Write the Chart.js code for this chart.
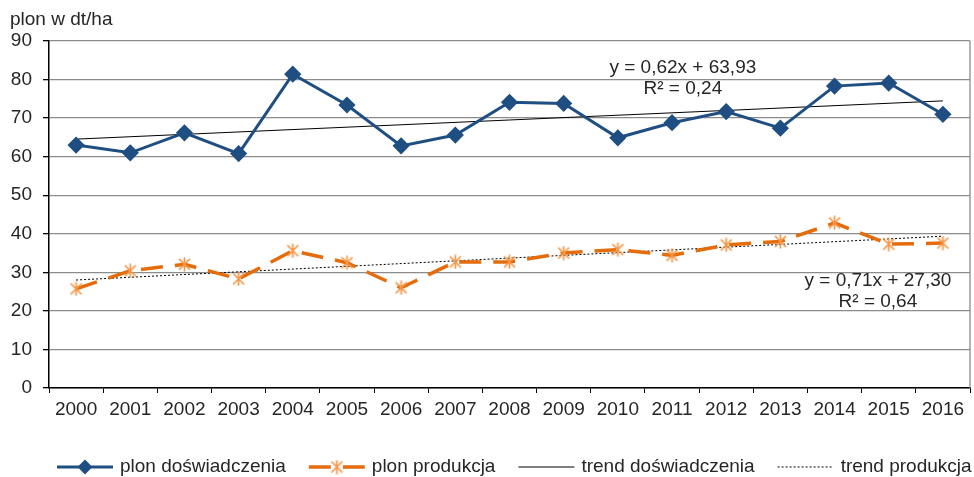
<!DOCTYPE html>
<html>
<head>
<meta charset="utf-8">
<script src="https://cdn.jsdelivr.net/npm/chart.js@4"></script>
<style>
  body { margin: 0; background: #fff; }
  #wrap { width: 974px; height: 477px; }
</style>
</head>
<body>
<div id="wrap"><canvas id="yieldChart" width="974" height="477"></canvas></div>
<script>
const years = ['2000', '2001', '2002', '2003', '2004', '2005', '2006', '2007', '2008',
    '2009', '2010', '2011', '2012', '2013', '2014', '2015', '2016'];
const plonDoswiadczenia = [63.0, 61.0, 66.2, 60.8, 81.4, 73.4, 62.8, 65.6, 74.1,
    73.8, 64.9, 68.8, 71.7, 67.4, 78.3, 79.1, 71.0];
const plonProdukcja = [25.7, 30.4, 32.1, 28.3, 35.6, 32.5, 26.0, 32.7, 32.7,
    35.0, 35.9, 34.4, 37.1, 38.0, 42.8, 37.3, 37.6];
// trend lines: value at first and last year
const trendDoswiadczenia = [64.55, 74.47];
const trendProdukcja = [28.01, 39.37];
const trendText = [
    ['y = 0,62x + 63,93', 'R² = 0,24'],
    ['y = 0,71x + 27,30', 'R² = 0,64']
];
const legendNames = ['plon doświadczenia', 'plon produkcja', 'trend doświadczenia', 'trend produkcja'];

const FONT = '19px "Liberation Sans", Arial, sans-serif';
const TEXT = '#262626';
const BLUE = '#1F4E82';
const ORANGE = '#E46C0A';

function starMarker(color) {
    const c = document.createElement('canvas');
    c.width = c.height = 15;
    const g = c.getContext('2d');
    g.strokeStyle = color;
    g.lineWidth = 1.7;
    g.beginPath();
    g.moveTo(2, 2); g.lineTo(13, 13);
    g.moveTo(13, 2); g.lineTo(2, 13);
    g.moveTo(7.5, 0.5); g.lineTo(7.5, 14.5);
    g.stroke();
    return c;
}
const star = starMarker('#F79646');

function ends(vals) {
    return [{ x: years[0], y: vals[0] }, { x: years[years.length - 1], y: vals[1] }];
}

const extras = {
    id: 'extras',
    afterDraw(chart) {
        const ctx = chart.ctx;
        const area = chart.chartArea;
        const xs = chart.scales.x, ys = chart.scales.y;
        ctx.save();

        // right border of plot
        ctx.strokeStyle = '#8c8c8c';
        ctx.lineWidth = 1.3;
        ctx.beginPath();
        ctx.moveTo(area.right, area.top);
        ctx.lineTo(area.right, area.bottom);
        ctx.stroke();

        ctx.font = FONT;
        ctx.fillStyle = TEXT;
        ctx.textBaseline = 'middle';

        // axis unit
        ctx.textAlign = 'left';
        ctx.fillText('plon w dt/ha', 10, 20);

        // trend equations
        ctx.textAlign = 'center';
        const eqPos = [[11.2, 83.1], [14.8, 27.8]];
        trendText.forEach((lines, i) => {
            const px = xs.getPixelForValue(eqPos[i][0]);
            const py = ys.getPixelForValue(eqPos[i][1]);
            ctx.fillText(lines[0], px, py);
            ctx.fillText(lines[1], px, py + 21);
        });

        // legend
        const ly = 467;
        let lx = 57;
        ctx.textAlign = 'left';
        chart.data.datasets.forEach((ds, i) => {
            ctx.save();
            ctx.strokeStyle = ds.borderColor;
            ctx.lineWidth = ds.borderWidth;
            ctx.setLineDash(ds.borderDash || []);
            ctx.beginPath();
            ctx.moveTo(lx, ly);
            ctx.lineTo(lx + 56, ly);
            ctx.stroke();
            ctx.restore();
            if (ds.pointRadius > 0) {
                ctx.fillStyle = ds.pointBackgroundColor;
                ctx.strokeStyle = ds.pointBorderColor;
                Chart.helpers.drawPoint(ctx, {
                    pointStyle: ds.pointStyle, radius: ds.pointRadius, borderWidth: 1, rotation: 0
                }, lx + 28, ly);
            }
            ctx.fillStyle = TEXT;
            ctx.fillText(legendNames[i], lx + 63, ly);
            lx += 63 + ctx.measureText(legendNames[i]).width + 23;
        });
        ctx.restore();
    }
};

new Chart(document.getElementById('yieldChart'), {
    type: 'line',
    data: {
        labels: years,
        datasets: [
            {
                label: legendNames[0],
                data: plonDoswiadczenia,
                borderColor: BLUE,
                borderWidth: 3,
                pointStyle: 'rectRot',
                pointRadius: 6.5,
                pointBackgroundColor: BLUE,
                pointBorderColor: BLUE,
                tension: 0
            },
            {
                label: legendNames[1],
                data: plonProdukcja,
                borderColor: ORANGE,
                borderWidth: 3.5,
                borderDash: [22, 12],
                pointStyle: star,
                pointRadius: 7,
                pointBackgroundColor: '#F79646',
                pointBorderColor: '#F79646',
                tension: 0
            },
            {
                label: legendNames[2],
                data: ends(trendDoswiadczenia),
                borderColor: '#000',
                borderWidth: 1,
                pointRadius: 0
            },
            {
                label: legendNames[3],
                data: ends(trendProdukcja),
                borderColor: '#000',
                borderWidth: 1,
                borderDash: [2, 2],
                pointRadius: 0
            }
        ]
    },
    options: {
        responsive: false,
        animation: false,
        layout: { autoPadding: false, padding: { top: 41, right: 4, left: 0, bottom: 0 } },
        plugins: { legend: { display: false }, tooltip: { enabled: false } },
        scales: {
            x: {
                offset: true,
                grid: { offset: true, drawOnChartArea: false, tickLength: 5, tickColor: '#000' },
                border: { color: '#000', width: 1.5 },
                ticks: { font: { size: 19, family: '"Liberation Sans", Arial' }, color: TEXT, padding: 5, maxRotation: 0 },
                afterFit(scale) {
                    scale.height = 89;
                    scale.paddingLeft = 0;
                    scale.paddingRight = 0;
                }
            },
            y: {
                min: 0,
                max: 90,
                ticks: { stepSize: 10, font: { size: 19, family: '"Liberation Sans", Arial' }, color: TEXT, padding: 11 },
                grid: { color: '#8c8c8c', lineWidth: 1.3, tickLength: 6, tickColor: '#000' },
                border: { color: '#000', width: 1.5 },
                afterFit(scale) { scale.width = 49; }
            }
        }
    },
    plugins: [extras]
});
</script>
</body>
</html>
